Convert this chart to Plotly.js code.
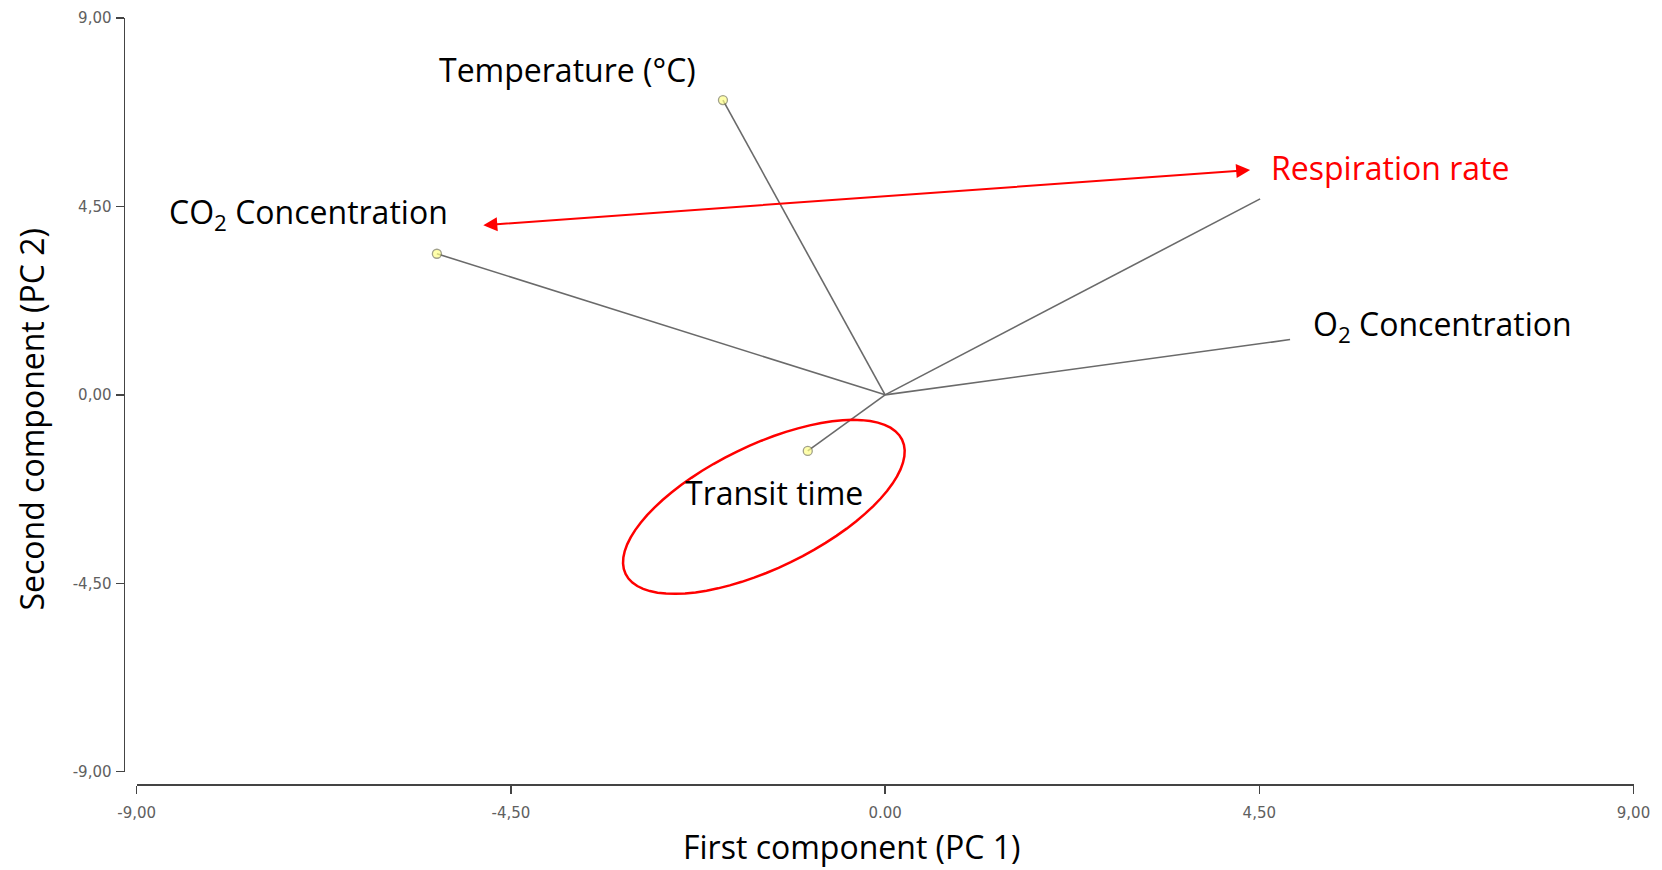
<!DOCTYPE html>
<html>
<head>
<meta charset="utf-8">
<script src="https://cdn.plot.ly/plotly-3.0.1.min.js"></script>
<style>html,body{margin:0;padding:0;background:#fff;}#chart{width:1662px;height:870px;}</style>
</head>
<body>
<div id="chart"></div>
<script>
// Loadings (PC1, PC2)
const variables = ["Temperature (°C)", "CO2 Concentration", "Respiration rate", "O2 Concentration", "Transit time"];
const pc1 = [-1.95, -5.39, 4.51, 4.87, -0.93];
const pc2 = [7.04, 3.37, 4.68, 1.32, -1.34];
const withMarker = [true, true, false, false, true];

const tickVals = [-9, -4.5, 0, 4.5, 9];
const xTickText = ["-9,00", "-4,50", "0.00", "4,50", "9,00"];
const yTickText = ["-9,00", "-4,50", "0,00", "4,50", "9,00"];

const W = 1662, H = 870;
const xDom = [136.7 / W, 1633.5 / W];
const yDom = [1 - 771.7 / H, 1 - 18 / H];
const pxPerX = (xDom[1] - xDom[0]) * W / 18;
const pxPerY = (yDom[1] - yDom[0]) * H / 18;

const traces = variables.map((name, i) => ({
  type: 'scatter',
  mode: withMarker[i] ? 'lines+markers' : 'lines',
  x: [0, pc1[i]],
  y: [0, pc2[i]],
  name: name,
  line: {color: '#6a6a6a', width: 1.6},
  marker: {size: [0, 9], color: '#ffff88', line: {color: '#7a7a5a', width: 1.3}},
  hoverinfo: 'skip',
  showlegend: false
}));

// Red ellipse around "Transit time" (pixel-space geometry converted to data units)
function ellipsePath(cx, cy, a, b, thetaDeg) {
  const t = thetaDeg * Math.PI / 180;
  let d = '';
  for (let k = 0; k <= 72; k++) {
    const p = k / 72 * 2 * Math.PI;
    const dx = a * Math.cos(p) * Math.cos(t) - b * Math.sin(p) * Math.sin(t);
    const dy = a * Math.cos(p) * Math.sin(t) + b * Math.sin(p) * Math.cos(t);
    const X = cx + dx / pxPerX, Y = cy + dy / pxPerY;
    d += (k === 0 ? 'M' : 'L') + X.toFixed(4) + ',' + Y.toFixed(4);
  }
  return d + 'Z';
}

const FAM = '"Open Sans", "Noto Sans", sans-serif';
const labelFont = {family: FAM, size: 32, color: '#000'};
const redFont = {family: FAM, size: 32, color: '#ff0000'};

const layout = {
  width: W, height: H,
  margin: {l: 0, r: 0, t: 0, b: 0},
  paper_bgcolor: '#fff', plot_bgcolor: '#fff',
  xaxis: {
    domain: xDom, range: [-9, 9], anchor: 'free', position: 1 - 784 / H,
    showgrid: false, zeroline: false, showline: true, linecolor: '#444', linewidth: 1.5,
    ticks: 'outside', ticklen: 8, tickcolor: '#444', tickwidth: 1.5,
    tickvals: tickVals, ticktext: xTickText, ticklabelstandoff: 6,
    tickfont: {family: '"DejaVu Sans", sans-serif', size: 15, color: '#606060'},
    fixedrange: true
  },
  yaxis: {
    domain: yDom, range: [-9, 9], anchor: 'free', position: 123.5 / W,
    showgrid: false, zeroline: false, showline: true, linecolor: '#444', linewidth: 1.5,
    ticks: 'outside', ticklen: 8, tickcolor: '#444', tickwidth: 1.5,
    tickvals: tickVals, ticktext: yTickText, ticklabelstandoff: 1,
    tickfont: {family: '"DejaVu Sans", sans-serif', size: 15, color: '#606060'},
    fixedrange: true
  },
  shapes: [{
    type: 'path', xref: 'x', yref: 'y',
    path: ellipsePath(-1.458, -2.675, 153.7, 61.5, 25.9),
    line: {color: '#ff0000', width: 2.5}, fillcolor: 'rgba(0,0,0,0)'
  }],
  annotations: [
    {x: -5.39, y: 7.77, xref: 'x', yref: 'y', text: 'Temperature (°C)', showarrow: false, xanchor: 'left', yanchor: 'middle', font: labelFont},
    {x: -8.63, y: 4.33, xref: 'x', yref: 'y', text: 'CO<sub>2</sub> Concentration', showarrow: false, xanchor: 'left', yanchor: 'middle', font: labelFont},
    {x: 4.62, y: 5.42, xref: 'x', yref: 'y', text: 'Respiration rate', showarrow: false, xanchor: 'left', yanchor: 'middle', font: redFont},
    {x: 5.12, y: 1.64, xref: 'x', yref: 'y', text: 'O<sub>2</sub> Concentration', showarrow: false, xanchor: 'left', yanchor: 'middle', font: labelFont},
    {x: -2.43, y: -2.33, xref: 'x', yref: 'y', text: 'Transit time', showarrow: false, xanchor: 'left', yanchor: 'middle', font: labelFont},
    {x: 4.39, y: 5.37, ax: -4.85, ay: 4.05, xref: 'x', yref: 'y', axref: 'x', ayref: 'y', text: '',
     showarrow: true, arrowhead: 2, startarrowhead: 2, arrowside: 'end+start', arrowsize: 1.4, startarrowsize: 1.4,
     arrowwidth: 2, arrowcolor: '#ff0000'},
    {x: 852 / W, y: 1 - 846 / H, xref: 'paper', yref: 'paper', text: 'First component (PC 1)', showarrow: false,
     xanchor: 'center', yanchor: 'middle', font: labelFont},
    {x: 31 / W, y: 1 - 419.5 / H, xref: 'paper', yref: 'paper', text: 'Second component (PC 2)', showarrow: false,
     textangle: -90, xanchor: 'center', yanchor: 'middle', font: labelFont}
  ]
};

Plotly.newPlot('chart', traces, layout, {staticPlot: true, displayModeBar: false});
</script>
</body>
</html>
